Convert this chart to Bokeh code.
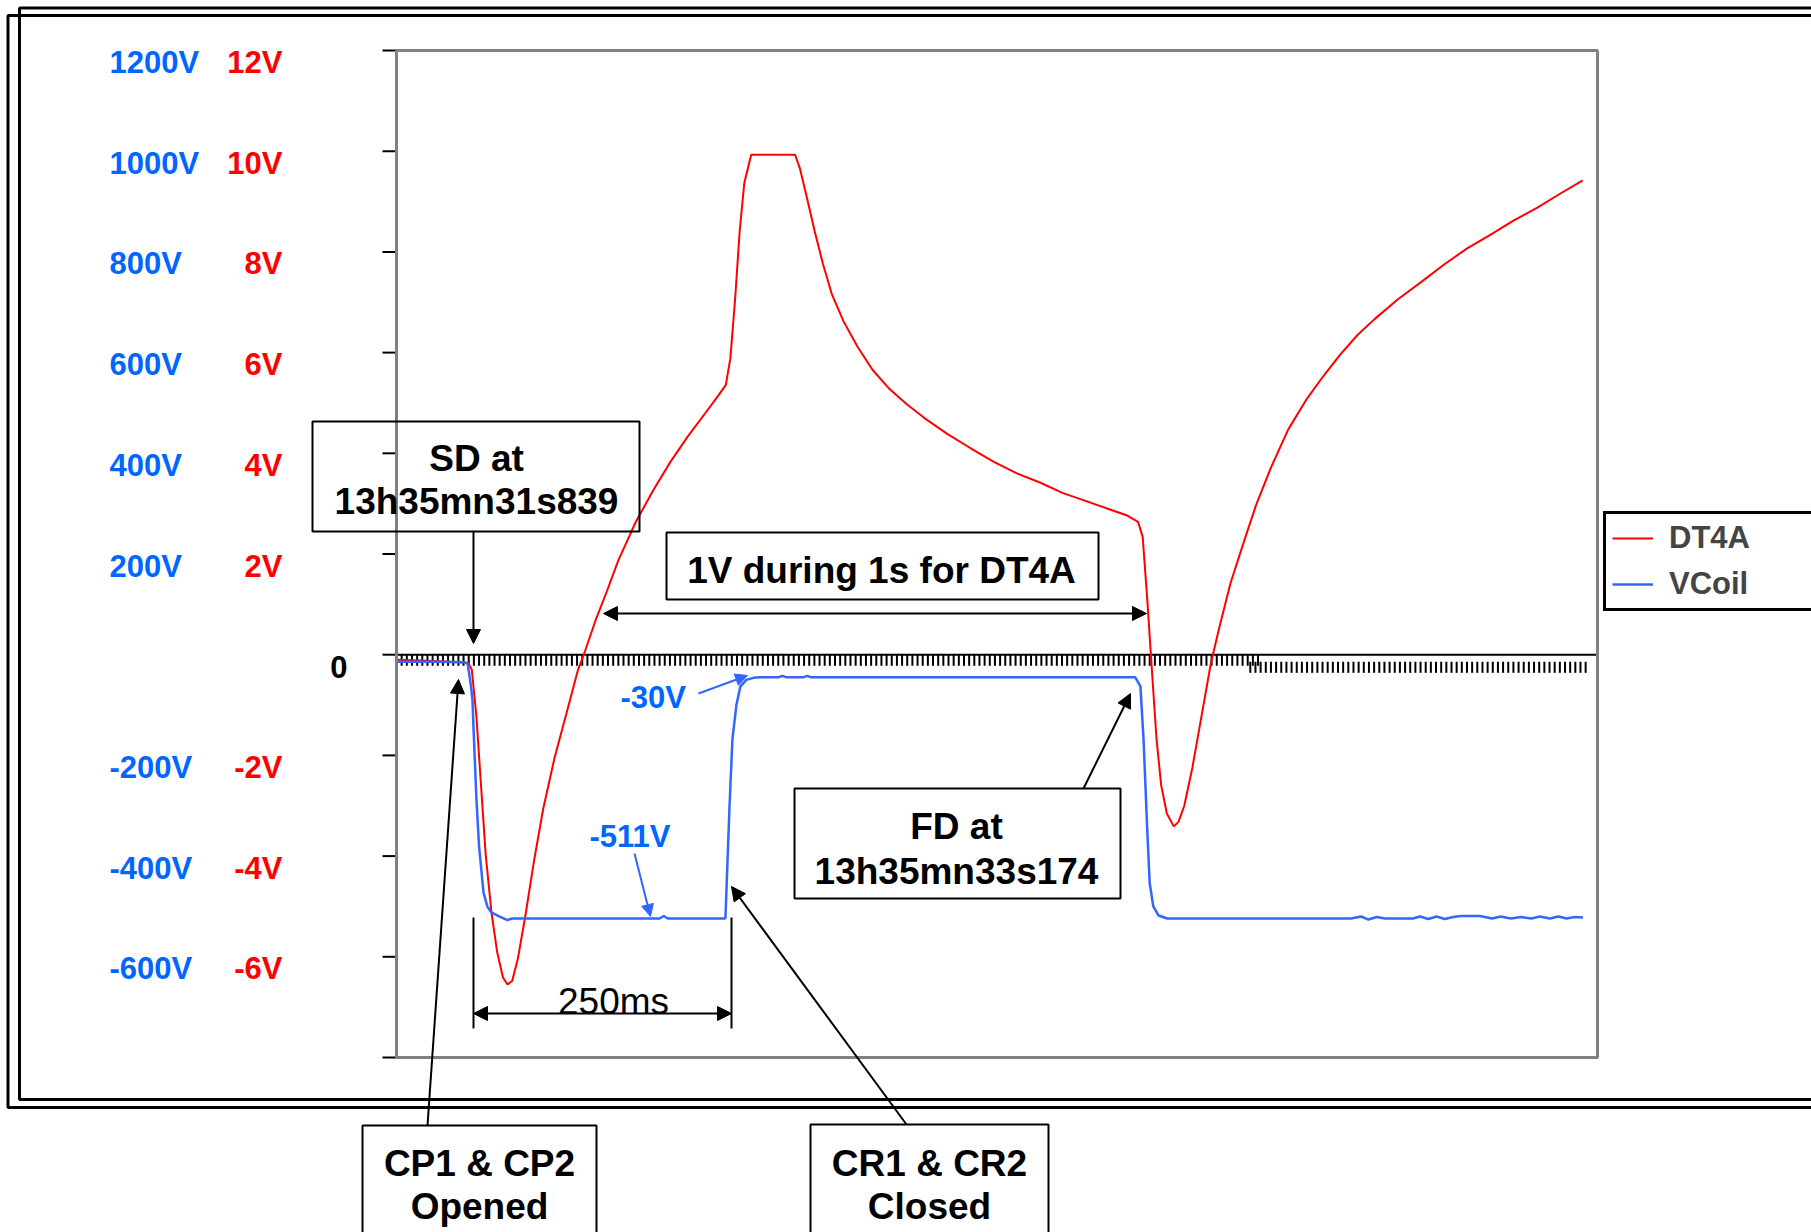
import numpy as np
from bokeh.plotting import figure
from bokeh.models import (Range1d, Label, Arrow, NormalHead, PolyAnnotation,
                          BoxAnnotation, Legend, LegendItem)
from bokeh.embed import file_html
from bokeh.resources import INLINE

# ---------------- data (time in ms, voltages) ----------------
t_dt4a = [0, 30, 69.6, 73, 77.4, 81.9, 86.4, 92, 97.6, 103.2,
          107.6, 112.1, 117.7, 125.5, 133.4, 142.3, 153.5, 164.7, 175.9, 181.5,
          192.7, 203.9, 215.1, 232, 248.7, 265.5, 282.2, 299, 312.4, 319.2,
          323.6, 328.1, 332.6, 337.1, 343.8, 386.3, 390.8, 397.5, 405.3, 413.2,
          422.1, 433.3, 446.7, 461.3, 478.1, 494.9, 511.7, 534.1, 556.5, 578.9,
          601.3, 623.6, 646, 668.4, 690.7, 707.5, 718.7, 723.2, 727.7, 732.1,
          736.6, 741.1, 746.7, 753.4, 757.9, 763.5, 771.3, 780.3, 789.2, 797.1,
          808.3, 821.7, 832.9, 847.4, 864.2, 881, 897.8, 914.6, 931.4, 948.2,
          970.6, 993, 1015.3, 1037.7, 1060.1, 1082.5, 1104.9, 1127.3, 1149.7]
v_dt4a = [-0.1, -0.12, -0.16, -0.3, -1.21, -2.59, -3.96, -5.11, -5.91, -6.41,
          -6.55, -6.48, -6.03, -5.11, -4.08, -3.05, -2.02, -1.17, -0.3, 0,
          0.67, 1.26, 1.88, 2.64, 3.26, 3.83, 4.33, 4.79, 5.16, 5.36,
          5.89, 7.04, 8.41, 9.37, 9.93, 9.93, 9.67, 9.10, 8.41, 7.77,
          7.15, 6.62, 6.12, 5.66, 5.27, 4.97, 4.70, 4.38, 4.10, 3.83,
          3.60, 3.42, 3.21, 3.05, 2.89, 2.77, 2.64, 2.34, 1.08, -0.30,
          -1.67, -2.59, -3.16, -3.41, -3.32, -3.00, -2.25, -1.21, -0.18, 0.51,
          1.42, 2.27, 2.96, 3.71, 4.47, 5.04, 5.52, 5.96, 6.35, 6.67,
          7.06, 7.40, 7.75, 8.07, 8.34, 8.62, 8.87, 9.15, 9.42]

t_vcoil = [0, 40, 66, 69, 72, 73.6, 75.5, 77.5, 80, 84.3,
           88, 92, 100, 107.6, 112, 180, 255, 259, 263, 300,
           318.8, 322.7, 325.6, 329.5, 333.3, 339.1, 345.9, 352, 370, 374,
           378, 394, 398, 402, 500, 600, 716, 721, 724, 727.7,
           730, 733.5, 738.6, 747, 850, 925, 935, 942, 950, 958,
           985, 992, 1000, 1008, 1016, 1024, 1032, 1050, 1062, 1070,
           1080, 1090, 1100, 1108, 1118, 1126, 1134, 1142, 1150]
v_vcoil = [-14, -14, -15, -18, -60, -89, -190, -288, -380, -472,
           -500, -512, -520, -527, -524, -524, -524, -519, -524, -524,
           -524, -304, -167, -99, -63, -50, -46, -45, -45, -42,
           -45, -45, -42, -45, -45, -45, -45, -63, -167, -351,
           -454, -500, -518, -524, -524, -524, -520, -526, -521, -524,
           -524, -520, -525, -520, -525, -521, -519, -519, -524, -520,
           -524, -521, -524, -520, -524, -520, -524, -521, -522]

y_ticks = [-800, -600, -400, -200, 0, 200, 400, 600, 800, 1000, 1200]
vcoil_tick_values = [1200, 1000, 800, 600, 400, 200, -200, -400, -600]
vcoil_tick_labels = ["1200V", "1000V", "800V", "600V", "400V", "200V", "-200V", "-400V", "-600V"]
dt4a_tick_values = [12, 10, 8, 6, 4, 2, -2, -4, -6]
dt4a_tick_labels = ["12V", "10V", "8V", "6V", "4V", "2V", "-2V", "-4V", "-6V"]
x_ticks_a = list(np.arange(5, 840, 5.0))
x_ticks_b = list(np.arange(827.5, 1156, 5.0))

RED = "#FF0000"
BLUE = "#3366FF"
LBLUE = "#0066FF"
FONT = "Liberation Sans"

# ---------------- layout: page pixels <-> data ----------------
W, H = 1811, 1232
X_MAX = 1164.0             # time span of plot area (ms)
Y_MIN, Y_MAX = -800.0, 1200.0

def tx(X):   # page x pixel -> ms
    return (X - 396) * X_MAX / 1201.0

def vy(Y):   # page y pixel -> VCoil volts
    return Y_MAX - (Y - 50) * (Y_MAX - Y_MIN) / 1007.0

p = figure(width=W, height=H, output_backend="svg", toolbar_location=None,
           x_range=Range1d(tx(0), tx(W)), y_range=Range1d(vy(H), vy(0)),
           x_axis_location=None, y_axis_location=None,
           min_border=0, min_border_left=0, min_border_right=0,
           min_border_top=0, min_border_bottom=0)
p.extra_y_ranges = {"dt4a": Range1d(vy(H) / 100.0, vy(0) / 100.0)}
p.xgrid.visible = False
p.ygrid.visible = False
p.outline_line_color = None
p.background_fill_color = "white"
p.border_fill_color = "white"

# plot area border (grey) and y axis (black) with outside ticks
p.add_layout(BoxAnnotation(left=0, right=X_MAX, bottom=Y_MIN, top=Y_MAX,
                           fill_alpha=0, fill_color=None, line_color="#808080",
                           line_alpha=1, line_width=3))
p.segment(x0=[0], y0=[Y_MIN], x1=[0], y1=[Y_MAX], line_color="black", line_width=2)
p.segment(x0=[tx(382)] * len(y_ticks), y0=y_ticks, x1=[0] * len(y_ticks), y1=y_ticks,
          line_color="black", line_width=2)

# zero line and category ticks
p.segment(x0=[0], y0=[0], x1=[X_MAX], y1=[0], line_color="black", line_width=2)
p.segment(x0=x_ticks_a, y0=0, x1=x_ticks_a, y1=-22, line_color="black", line_width=2)
p.segment(x0=x_ticks_b, y0=-14, x1=x_ticks_b, y1=-36, line_color="black", line_width=2)

r_red = p.line(t_dt4a, v_dt4a, y_range_name="dt4a", line_color=RED, line_width=2)
r_blue = p.line(t_vcoil, v_vcoil, line_color=BLUE, line_width=2.5)

# axis labels (two coloured columns)
for val, lab in zip(vcoil_tick_values, vcoil_tick_labels):
    p.add_layout(Label(x=tx(109), y=val - 24, text=lab, text_color=LBLUE,
                       text_font=FONT, text_font_style="bold", text_font_size="31px",
                       text_align="left", text_baseline="alphabetic"))
for val, lab in zip(dt4a_tick_values, dt4a_tick_labels):
    p.add_layout(Label(x=tx(282), y=val - 0.24, y_range_name="dt4a", text=lab,
                       text_color=RED, text_font=FONT, text_font_style="bold",
                       text_font_size="31px", text_align="right",
                       text_baseline="alphabetic"))
p.add_layout(Label(x=tx(347), y=-24, text="0", text_color="black", text_font=FONT,
                   text_font_style="bold", text_font_size="31px", text_align="right",
                   text_baseline="alphabetic"))

TEXT_SHIFT = 9  # px

def text(X, Y, s, size="37px", color="black", bold=True, align="center"):
    p.add_layout(Label(x=tx(X), y=vy(Y - TEXT_SHIFT), text=s, text_color=color,
                       text_font=FONT, text_font_style="bold" if bold else "normal",
                       text_font_size=size, text_align=align,
                       text_baseline="alphabetic"))

def rect(X0, Y0, X1, Y1, lw=2):
    p.add_layout(PolyAnnotation(xs=[tx(X0), tx(X1), tx(X1), tx(X0)],
                                ys=[vy(Y0), vy(Y0), vy(Y1), vy(Y1)],
                                fill_color=None, fill_alpha=0,
                                line_color="black", line_alpha=1, line_width=lw))

def arrow(X0, Y0, X1, Y1, color="black", both=False, head=True, size=14, lw=2):
    end = NormalHead(size=size, fill_color=color, line_color=color) if head else None
    start = NormalHead(size=size, fill_color=color, line_color=color) if both else None
    p.add_layout(Arrow(x_start=tx(X0), y_start=vy(Y0), x_end=tx(X1), y_end=vy(Y1),
                       start=start, end=end, line_color=color, line_width=lw))

# outer double frame
rect(7.5, 15, 1850, 1107, lw=3)
rect(19, 7.5, 1850, 1099, lw=3)

# SD box
rect(312, 421, 639, 531)
text(476, 467, "SD at")
text(476, 510, "13h35mn31s839")
arrow(473, 531, 473, 643)

# 1V during 1s box
rect(666, 532, 1098, 599)
text(881, 579, "1V during 1s for DT4A")
arrow(603, 613, 1146, 613, both=True)

# -30V / -511V labels
text(620, 706, "-30V", size="31px", color=LBLUE, align="left")
arrow(698, 693, 747, 675, color=BLUE, size=12)
text(589, 845, "-511V", size="31px", color=LBLUE, align="left")
arrow(634, 853, 650, 916, color=BLUE, size=12)

# FD box
rect(794, 788, 1120, 898)
text(956, 835, "FD at")
text(956, 880, "13h35mn33s174")
arrow(1083, 788, 1130, 693)

# 250 ms dimension
arrow(473, 917, 473, 1028, head=False)
arrow(731, 917, 731, 1028, head=False)
arrow(473, 1013, 731, 1013, both=True)
text(613, 1010, "250ms", bold=False)

# CP / CR boxes below
rect(362, 1125, 596, 1270)
text(479, 1172, "CP1 & CP2")
text(479, 1215, "Opened")
arrow(427, 1125, 458, 679)
rect(810, 1124, 1048, 1270)
text(929, 1172, "CR1 & CR2")
text(929, 1215, "Closed")
arrow(906, 1124, 731, 886)

# legend (bottom-left corner in canvas pixels from bottom-left)
legend = Legend(items=[LegendItem(label="DT4A", renderers=[r_red]),
                       LegendItem(label="VCoil", renderers=[r_blue])],
                location=(1603, H - 611), orientation="vertical")
legend.border_line_color = "black"
legend.border_line_alpha = 1
legend.border_line_width = 3
legend.background_fill_color = "white"
legend.background_fill_alpha = 1
legend.label_text_font = FONT
legend.label_text_font_style = "bold"
legend.label_text_font_size = "31px"
legend.glyph_width = 41
legend.glyph_height = 20
legend.label_standoff = 16
legend.padding = 6
legend.spacing = 10
legend.margin = 0
legend.label_width = 150
p.add_layout(legend)

open("out.html", "w").write(file_html(p, INLINE))
